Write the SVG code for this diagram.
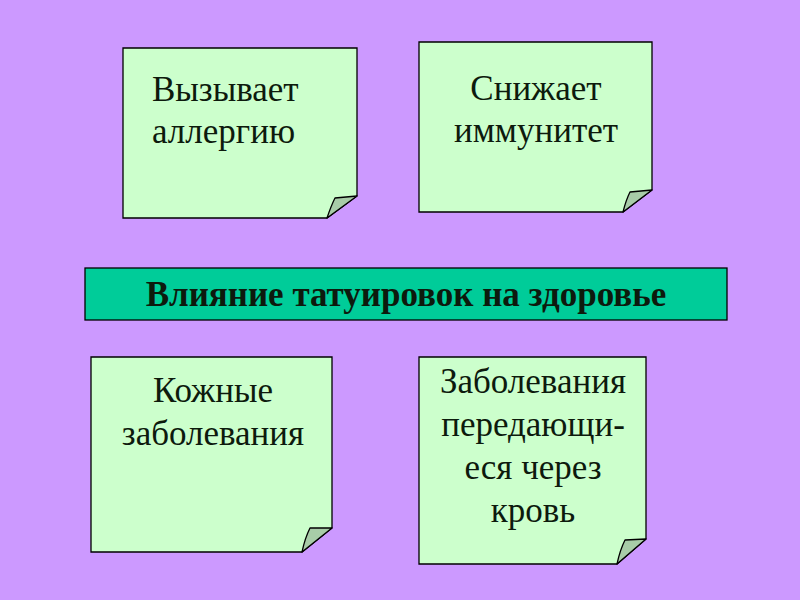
<svg xmlns="http://www.w3.org/2000/svg" width="800" height="600" viewBox="0 0 800 600">
<style>
.note{fill:#ccffcc;stroke:#000;stroke-width:1.3}
.fold{fill:#a8cca8;stroke:#000;stroke-width:1.3;stroke-linejoin:round}
.t{font-family:"Liberation Serif","Times New Roman",serif;font-size:35px;fill:#0d1a0d}
.c{text-anchor:middle}
.title{font-family:"Liberation Serif","Times New Roman",serif;font-size:35px;font-weight:bold;fill:#0d1a0d;text-anchor:middle}
</style>
<rect width="800" height="600" fill="#cc99ff"/>
<g id="note-allergy">
<path class="note" d="M123,48 H357 V196 L327,218 H123 Z"/>
<path class="fold" d="M327,218 Q331,206 335,198 L357,196 Z"/>
<text class="t" x="152" y="101">Вызывает</text>
<text class="t" x="152" y="143">аллергию</text>
</g>
<g id="note-immunity">
<path class="note" d="M419,42 H652 V190 L623,212 H419 Z"/>
<path class="fold" d="M623,212 Q626,200 630,192 L652,190 Z"/>
<text class="t c" x="536" y="100">Снижает</text>
<text class="t c" x="536" y="142">иммунитет</text>
</g>
<g id="title">
<rect x="85" y="268" width="642" height="52" fill="#00cc99" stroke="#000" stroke-width="1.3"/>
<text class="title" x="406" y="306">Влияние татуировок на здоровье</text>
</g>
<g id="note-skin">
<path class="note" d="M91,357 H332 V528 L302,552 H91 Z"/>
<path class="fold" d="M302,552 Q305,538 310,528 L332,528 Z"/>
<text class="t c" x="213" y="402">Кожные</text>
<text class="t c" x="213" y="445">заболевания</text>
</g>
<g id="note-blood">
<path class="note" d="M419,357 H646 V539 L617,564 H419 Z"/>
<path class="fold" d="M617,564 Q620,550 625,540 L646,539 Z"/>
<text class="t c" x="533" y="393">Заболевания</text>
<text class="t c" x="533" y="436">передающи-</text>
<text class="t c" x="533" y="479">еся через</text>
<text class="t c" x="533" y="522">кровь</text>
</g>
<g id="connectors"></g>
</svg>
